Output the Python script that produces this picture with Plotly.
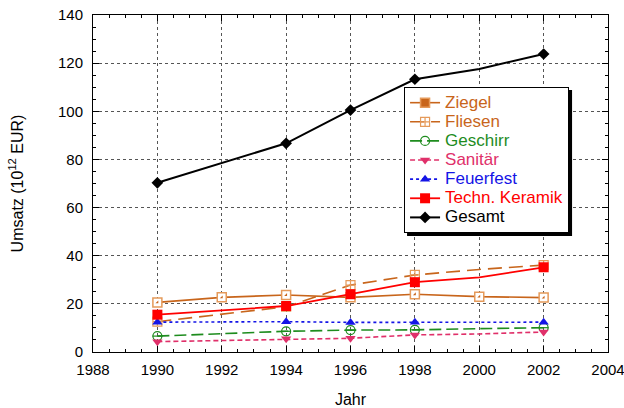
import plotly.graph_objects as go

# ---- data ----
years = [1990, 1992, 1994, 1996, 1998, 2000, 2002]
ziegel = [20.6, 22.7, 23.7, 22.7, 24.0, 23.0, 22.6]
fliesen = [12.6, 15.6, 18.8, 27.8, 32.0, 34.3, 36.1]
geschirr = [6.6, 7.5, 8.6, 9.1, 9.2, 9.7, 10.1]
sanitaer = [4.3, 4.8, 5.5, 5.7, 7.1, 7.5, 8.3]
feuerfest = [12.4, 12.5, 12.6, 12.3, 12.4, 12.3, 12.4]
techn_keramik = [15.5, 17.4, 19.1, 24.0, 29.0, 31.0, 35.2]
gesamt = [70.3, 78.4, 86.7, 100.5, 113.3, 117.6, 123.8]

marker_years_all = [1990, 1992, 1994, 1996, 1998, 2000, 2002]
marker_years = [1990, 1994, 1996, 1998, 2002]

names = ["Ziegel", "Fliesen", "Geschirr", "Sanitär", "Feuerfest", "Techn. Keramik", "Gesamt"]

x_ticks = [1988, 1990, 1992, 1994, 1996, 1998, 2000, 2002, 2004]
y_ticks = [0, 20, 40, 60, 80, 100, 120, 140]

FONT = "Liberation Sans, Arial, sans-serif"
ORANGE = "#C8651B"
ORANGE_L = "#E59A5A"
GREEN = "#1E8C1E"
PINK = "#E0306A"
BLUE = "#1414E6"
RED = "#FF0000"
BLACK = "#000000"


def subset(values, sel_years):
    return [v for y, v in zip(years, values) if y in sel_years]


fig = go.Figure()

series = [
    dict(name=names[0], y=ziegel, color=ORANGE, dash="solid", width=1.6, myears=marker_years_all,
         markers=[dict(symbol="square", size=9, color="white", line=dict(color=ORANGE_L, width=1.5)),
                  dict(symbol="triangle-se", size=3.2, color=ORANGE, line=dict(width=0))],
         legend_marker=dict(symbol="square", size=9, color=ORANGE, line=dict(color=ORANGE_L, width=1.5))),
    dict(name=names[1], y=fliesen, color=ORANGE, dash="14px,7px", width=1.6, myears=marker_years,
         markers=[dict(symbol="square-cross-open", size=9, color=ORANGE_L, line=dict(color=ORANGE_L, width=1.2))],
         legend_marker=dict(symbol="square-cross-open", size=9, color=ORANGE_L, line=dict(color=ORANGE_L, width=1.2))),
    dict(name=names[2], y=geschirr, color=GREEN, dash="12px,5px", width=1.6, myears=marker_years,
         markers=[dict(symbol="circle-open", size=9, color=GREEN, line=dict(color=GREEN, width=1.2)),
                  dict(symbol="line-ew-open", size=7, color=GREEN, line=dict(color=GREEN, width=1.2))],
         legend_marker=dict(symbol="circle-open", size=9, color=GREEN, line=dict(color=GREEN, width=1.2))),
    dict(name=names[3], y=sanitaer, color=PINK, dash="5px,3px", width=1.6, myears=marker_years,
         markers=[dict(symbol="triangle-down", size=9, color=PINK, line=dict(width=0))],
         legend_marker=dict(symbol="triangle-down", size=9, color=PINK, line=dict(width=0))),
    dict(name=names[4], y=feuerfest, color=BLUE, dash="3px,3px", width=1.6, myears=marker_years,
         markers=[dict(symbol="triangle-up", size=9, color=BLUE, line=dict(width=0))],
         legend_marker=dict(symbol="triangle-up", size=9, color=BLUE, line=dict(width=0))),
    dict(name=names[5], y=techn_keramik, color=RED, dash="solid", width=1.8, myears=marker_years,
         markers=[dict(symbol="square", size=10, color=RED, line=dict(width=0))],
         legend_marker=dict(symbol="square", size=10, color=RED, line=dict(width=0))),
    dict(name=names[6], y=gesamt, color=BLACK, dash="solid", width=2, myears=marker_years,
         markers=[dict(symbol="diamond", size=9, color=BLACK, line=dict(width=0))],
         legend_marker=dict(symbol="diamond", size=9, color=BLACK, line=dict(width=0))),
]

for s in series:
    fig.add_trace(go.Scatter(x=years, y=s["y"], mode="lines", showlegend=False, hoverinfo="skip",
                             line=dict(color=s["color"], dash=s["dash"], width=s["width"])))
    for m in s["markers"]:
        fig.add_trace(go.Scatter(x=s["myears"], y=subset(s["y"], s["myears"]), mode="markers",
                                 showlegend=False, marker=m))

for s in series:
    fig.add_trace(go.Scatter(x=[None], y=[None], mode="lines+markers",
                             name=f"<span style='color:{s['color']};font-size:17px'>{s['name']}</span>",
                             line=dict(color=s["color"], dash=s["dash"], width=s["width"]),
                             marker=s["legend_marker"]))

axis_common = dict(
    showline=True, linecolor="black", linewidth=1, mirror="ticks",
    ticks="inside", ticklen=6, tickwidth=1, tickcolor="black", automargin=False,
    ticklabeloverflow="allow",
    showgrid=True, gridcolor="#555555", griddash="dot", gridwidth=1,
    zeroline=False, tickfont=dict(size=15, family=FONT, color="black"),
)

LEG_X, LEG_Y = 0.604, 0.786
LEG_W, LEG_H = 166, 147

fig.update_layout(
    width=624, height=408,
    margin=dict(l=93, r=16, t=15, b=56),
    paper_bgcolor="white", plot_bgcolor="white",
    font=dict(family=FONT, color="black"),
    xaxis=dict(range=[1988, 2004], tickvals=x_ticks, ticklabelstandoff=4,
               minor=dict(dtick=0.5, tick0=1988, ticks="inside", ticklen=3, tickcolor="black", showgrid=False),
               title=dict(text="Jahr", font=dict(size=16, family=FONT), standoff=17),
               **axis_common),
    yaxis=dict(range=[0, 140], tickvals=y_ticks, ticklabelstandoff=6,
               minor=dict(dtick=5, tick0=0, ticks="inside", ticklen=3, tickcolor="black", showgrid=False),
               title=dict(text="Umsatz (10<sup>12</sup> EUR)", font=dict(size=16, family=FONT), standoff=30),
               **axis_common),
    legend=dict(x=LEG_X, y=LEG_Y, xanchor="left", yanchor="top", bgcolor="white",
                bordercolor="black", borderwidth=1, font=dict(size=12.4, family=FONT),
                itemwidth=30, tracegroupgap=0),
    shapes=[dict(type="rect", xref="paper", yref="paper", xsizemode="pixel", ysizemode="pixel",
                 xanchor=LEG_X, yanchor=LEG_Y, x0=3, x1=LEG_W + 2, y0=-3, y1=-(LEG_H + 2),
                 fillcolor="black", line=dict(width=0), layer="above")],
)

fig.write_html("out.html", config={"displayModeBar": False},
               post_script="document.body.style.margin='0';document.body.style.overflow='hidden';")
